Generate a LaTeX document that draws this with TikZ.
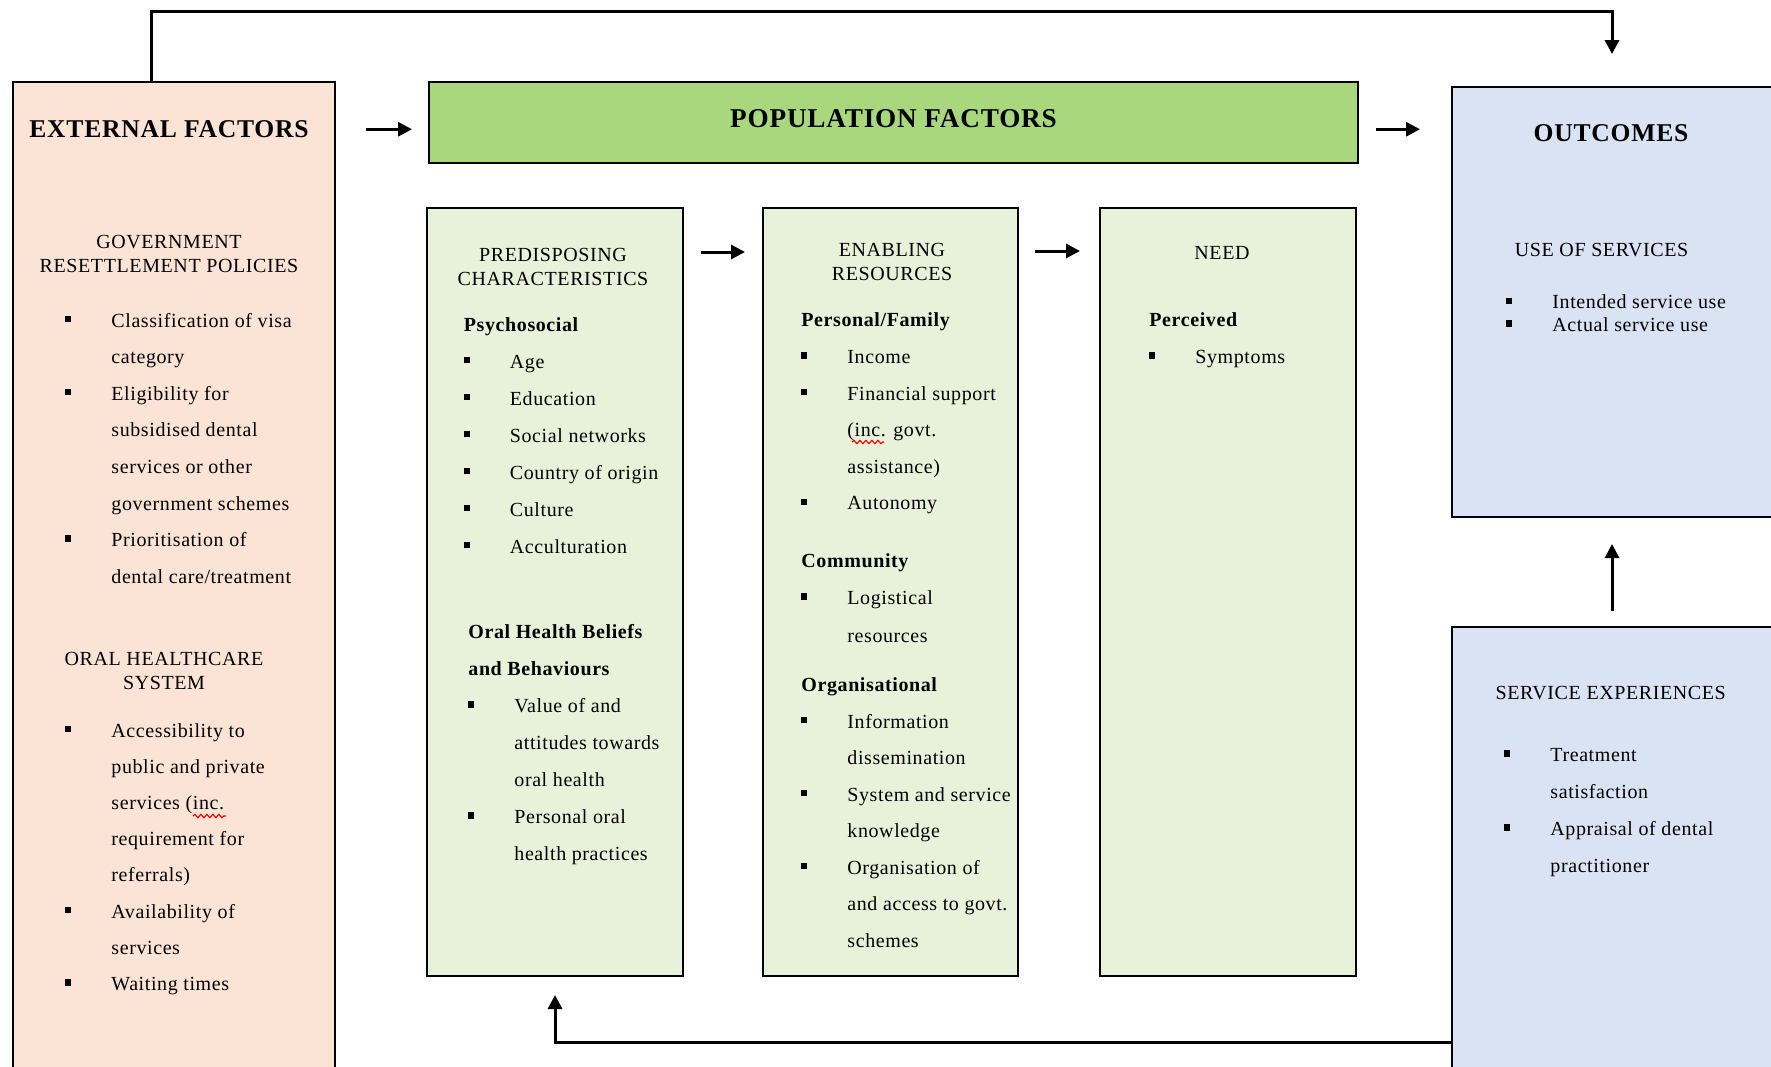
\documentclass[tikz,border=0pt]{standalone}
\usepackage{fontspec}
\setmainfont{Liberation Serif}[LetterSpace=3]
\usetikzlibrary{positioning,arrows.meta,decorations.pathmorphing}

\definecolor{extpeach}{HTML}{FBE4D5}
\definecolor{popgreen}{HTML}{A9D77E}
\definecolor{palegreen}{HTML}{E8F2DA}
\definecolor{paleblue}{HTML}{DAE3F3}

\newcommand{\bul}{\rule[2.4pt]{3pt}{3.2pt}}
\newcommand{\hd}[1]{\multicolumn{2}{@{}l@{}}{\bfseries #1}}
\newcommand{\ttl}[1]{\fontsize{10}{12}\selectfont\begin{tabular}[t]{@{}c@{}}#1\end{tabular}}
\newenvironment{blist}[1][18.3pt]{\fontsize{10}{#1}\selectfont\begin{tabular}[t]{@{}p{23pt}@{}l@{}}}{\end{tabular}}

\begin{document}
\begin{tikzpicture}[x=0.5pt, y=-0.5pt,
  box/.style={draw, line width=1pt, rectangle, anchor=north west, inner sep=0},
  txt/.style={inner sep=0, anchor=base},
  lst/.style={inner sep=0, anchor=base west},
  head/.style={inner sep=0, font=\bfseries\fontsize{12.8}{14}\selectfont},
  arr/.style={-{Triangle[length=7pt,width=7pt]}, line width=1.5pt},
  squig/.style={red, line width=0.6pt, decorate, decoration={snake, amplitude=0.8pt, segment length=3pt}}]
  \useasboundingbox (0,0) rectangle (1771,1066);

  \node[box, fill=extpeach, minimum width=161pt, minimum height=500pt] (ext) at (12,81) {};
  \node[box, fill=popgreen, minimum width=464.5pt, minimum height=40.25pt, head, font=\bfseries\fontsize{13.6}{15}\selectfont, text depth=3.4pt] (pop) at (428,81) {POPULATION FACTORS};
  \node[box, fill=paleblue, minimum width=162pt, minimum height=215pt] (outc) at (1451,86) {};
  \node[box, fill=paleblue, minimum width=162pt, minimum height=415pt] (serv) at (1451,626) {};
  \node[box, fill=palegreen, minimum width=128pt, minimum height=384pt] (predis) at (426,207) {};
  \node[box, fill=palegreen, minimum width=127.5pt, minimum height=384pt, right=39pt of predis] (enab) {};
  \node[box, fill=palegreen, minimum width=128pt, minimum height=384pt, right=40pt of enab] (need) {};

  \node[head, anchor=base] (exttitle) at (169,137) {EXTERNAL FACTORS};
  \node[txt] (govt) at (169,248) {\ttl{GOVERNMENT\\RESETTLEMENT POLICIES}};
  \node[lst] (govtlist) at (65,327) {\begin{blist}
    \bul & Classification of visa\\ & category\\
    \bul & Eligibility for\\ & subsidised dental\\ & services or other\\ & government schemes\\
    \bul & Prioritisation of\\ & dental care/treatment
  \end{blist}};
  \node[txt] (ohs) at (164,665.6) {\ttl{ORAL HEALTHCARE\\SYSTEM}};
  \node[lst] (ohslist) at (65,737) {\begin{blist}[18.1pt]
    \bul & Accessibility to\\ & public and private\\ & services (inc.\\ & requirement for\\ & referrals)\\
    \bul & Availability of\\ & services\\
    \bul & Waiting times
  \end{blist}};

  \node[txt] (predistitle) at (553,261) {\ttl{PREDISPOSING\\CHARACTERISTICS}};
  \node[lst] (psych) at (463.5,331) {\begin{blist}[18.5pt]
    \hd{Psychosocial}\\
    \bul & Age\\ \bul & Education\\ \bul & Social networks\\
    \bul & Country of origin\\ \bul & Culture\\ \bul & Acculturation
  \end{blist}};
  \node[lst] (beliefs) at (468,638.5) {\begin{blist}[18.5pt]
    \hd{Oral Health Beliefs}\\ \hd{and Behaviours}\\
    \bul & Value of and\\ & attitudes towards\\ & oral health\\
    \bul & Personal oral\\ & health practices
  \end{blist}};

  \node[txt] (enabtitle) at (892,256.7) {\ttl{ENABLING\\RESOURCES}};
  \node[lst] (family) at (801,326.8) {\begin{blist}[18.3pt]
    \hd{Personal/Family}\\
    \bul & Income\\ \bul & Financial support\\ & (inc. govt.\\ & assistance)\\
    \bul & Autonomy
  \end{blist}};
  \node[lst] (community) at (801,567) {\begin{blist}[18.75pt]
    \hd{Community}\\ \bul & Logistical\\ & resources
  \end{blist}};
  \node[lst] (orgn) at (801,691.6) {\begin{blist}[18.25pt]
    \hd{Organisational}\\
    \bul & Information\\ & dissemination\\
    \bul & System and service\\ & knowledge\\
    \bul & Organisation of\\ & and access to govt.\\ & schemes
  \end{blist}};

  \node[txt] (needtitle) at (1222,259) {\ttl{NEED}};
  \node[lst] (perceived) at (1149,326.8) {\begin{blist}
    \hd{Perceived}\\ \bul & Symptoms
  \end{blist}};

  \node[head, anchor=base] (outctitle) at (1611,141) {OUTCOMES};
  \node[txt] (usetitle) at (1601.6,256.7) {\ttl{USE OF SERVICES}};
  \node[lst] (uselist) at (1506,308.7) {\begin{blist}[11.3pt]
    \bul & Intended service use\\ \bul & Actual service use
  \end{blist}};
  \node[txt] (servtitle) at (1610.7,699.5) {\ttl{SERVICE EXPERIENCES}};
  \node[lst] (servlist) at (1504,761.6) {\begin{blist}[18.45pt]
    \bul & Treatment\\ & satisfaction\\
    \bul & Appraisal of dental\\ & practitioner
  \end{blist}};

  \draw[squig] (193,816) -- (226,816);
  \draw[squig] (852,442) -- (884,442);

  \draw[arr, shorten >=16pt] ([xshift=-11.5pt]ext.north) -- ++(0,-70) -| ([xshift=-1pt]outc.north);
  \draw[arr, shorten <=15pt, shorten >=8pt, transform canvas={yshift=-3.5pt}] (ext.east |- pop.west) -- (pop.west);
  \draw[arr, shorten <=8.25pt, shorten >=15.5pt, transform canvas={yshift=-3.5pt}] (pop.east) -- (pop.east -| outc.west);
  \draw[arr, shorten <=8.5pt, shorten >=8.5pt] ([yshift=-22.5pt]predis.north east) -- ([yshift=-22.5pt]enab.north west);
  \draw[arr, shorten <=8pt, shorten >=9.5pt] ([yshift=-22pt]enab.north east) -- ([yshift=-22pt]need.north west);
  \draw[arr, shorten <=7.5pt, shorten >=13pt] ([xshift=-1pt]serv.north) -- ([xshift=-1pt]outc.south);
  \draw[arr, shorten >=9pt] (serv.west) -| (predis.south);
\end{tikzpicture}
\end{document}
